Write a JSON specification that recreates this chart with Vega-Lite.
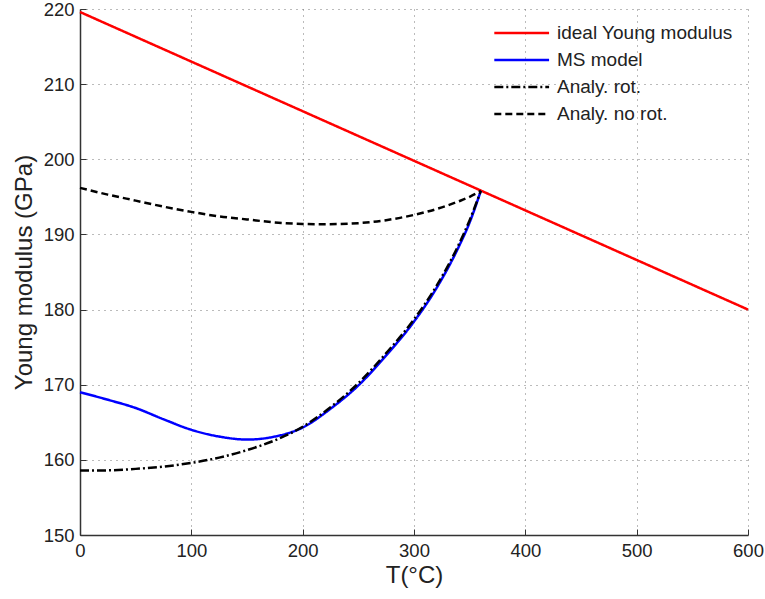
{
  "$schema": "https://vega.github.io/schema/vega-lite/v6.json",
  "autosize": "none",
  "width": 668,
  "height": 526,
  "padding": {"left": 80, "top": 9, "right": 17, "bottom": 64},
  "background": "white",
  "config": {
    "view": {"stroke": null},
    "font": "Liberation Sans",
    "axis": {
      "labelFont": "Liberation Sans",
      "titleFont": "Liberation Sans",
      "labelFontSize": 18.5,
      "titleFontSize": 24,
      "titleFontWeight": "normal",
      "labelColor": "#222",
      "titleColor": "#222",
      "labelFlush": false,
      "domainColor": "#333",
      "domainWidth": 1.5,
      "ticks": true,
      "tickSize": -6,
      "tickColor": "#333",
      "tickWidth": 1,
      "grid": true,
      "gridColor": "#777",
      "gridDash": [1, 5],
      "gridWidth": 1
    }
  },
  "data": {
    "values": [
      {"s": "ideal Young modulus", "T": 0, "E": 219.6},
      {"s": "ideal Young modulus", "T": 600, "E": 180.0},
      {"s": "MS model", "T": 0, "E": 169.0},
      {"s": "MS model", "T": 25, "E": 168.0},
      {"s": "MS model", "T": 50, "E": 166.9},
      {"s": "MS model", "T": 75, "E": 165.4},
      {"s": "MS model", "T": 100, "E": 164.0},
      {"s": "MS model", "T": 125, "E": 163.1},
      {"s": "MS model", "T": 150, "E": 162.7},
      {"s": "MS model", "T": 175, "E": 163.1},
      {"s": "MS model", "T": 200, "E": 164.3},
      {"s": "MS model", "T": 225, "E": 166.8},
      {"s": "MS model", "T": 250, "E": 169.9},
      {"s": "MS model", "T": 275, "E": 173.9},
      {"s": "MS model", "T": 300, "E": 178.4},
      {"s": "MS model", "T": 320, "E": 182.8},
      {"s": "MS model", "T": 340, "E": 188.3},
      {"s": "MS model", "T": 350, "E": 191.6},
      {"s": "MS model", "T": 360, "E": 195.8},
      {"s": "Analy. rot.", "T": 0, "E": 158.6},
      {"s": "Analy. rot.", "T": 25, "E": 158.6},
      {"s": "Analy. rot.", "T": 50, "E": 158.8},
      {"s": "Analy. rot.", "T": 75, "E": 159.1},
      {"s": "Analy. rot.", "T": 100, "E": 159.6},
      {"s": "Analy. rot.", "T": 125, "E": 160.3},
      {"s": "Analy. rot.", "T": 150, "E": 161.3},
      {"s": "Analy. rot.", "T": 175, "E": 162.6},
      {"s": "Analy. rot.", "T": 200, "E": 164.4},
      {"s": "Analy. rot.", "T": 225, "E": 167.0},
      {"s": "Analy. rot.", "T": 250, "E": 170.2},
      {"s": "Analy. rot.", "T": 275, "E": 174.2},
      {"s": "Analy. rot.", "T": 300, "E": 178.7},
      {"s": "Analy. rot.", "T": 320, "E": 183.1},
      {"s": "Analy. rot.", "T": 340, "E": 188.6},
      {"s": "Analy. rot.", "T": 350, "E": 191.9},
      {"s": "Analy. rot.", "T": 360, "E": 195.8},
      {"s": "Analy. no rot.", "T": 0, "E": 196.2},
      {"s": "Analy. no rot.", "T": 25, "E": 195.3},
      {"s": "Analy. no rot.", "T": 50, "E": 194.5},
      {"s": "Analy. no rot.", "T": 75, "E": 193.7},
      {"s": "Analy. no rot.", "T": 100, "E": 193.0},
      {"s": "Analy. no rot.", "T": 125, "E": 192.4},
      {"s": "Analy. no rot.", "T": 150, "E": 192.0},
      {"s": "Analy. no rot.", "T": 175, "E": 191.6},
      {"s": "Analy. no rot.", "T": 200, "E": 191.4},
      {"s": "Analy. no rot.", "T": 215, "E": 191.35},
      {"s": "Analy. no rot.", "T": 250, "E": 191.5},
      {"s": "Analy. no rot.", "T": 275, "E": 191.9},
      {"s": "Analy. no rot.", "T": 300, "E": 192.6},
      {"s": "Analy. no rot.", "T": 325, "E": 193.6},
      {"s": "Analy. no rot.", "T": 340, "E": 194.4},
      {"s": "Analy. no rot.", "T": 350, "E": 195.0},
      {"s": "Analy. no rot.", "T": 360, "E": 195.8}
    ]
  },
  "mark": {"type": "line", "strokeWidth": 2.5, "interpolate": "monotone"},
  "encoding": {
    "x": {
      "field": "T", "type": "quantitative",
      "scale": {"domain": [0, 600], "nice": false},
      "axis": {"values": [0, 100, 200, 300, 400, 500, 600], "title": "T(°C)", "labelPadding": 12, "titlePadding": 4}
    },
    "y": {
      "field": "E", "type": "quantitative",
      "scale": {"domain": [150, 220], "nice": false, "zero": false},
      "axis": {"values": [150, 160, 170, 180, 190, 200, 210, 220], "title": "Young modulus (GPa)", "labelPadding": 12, "titlePadding": 7}
    },
    "color": {
      "field": "s", "type": "nominal",
      "scale": {
        "domain": ["ideal Young modulus", "MS model", "Analy. rot.", "Analy. no rot."],
        "range": ["#ff0000", "#0000ff", "#000000", "#000000"]
      },
      "legend": {
        "title": null,
        "orient": "none",
        "legendX": 413,
        "legendY": 9,
        "symbolType": "M-1,0H3",
        "symbolSize": 750,
        "symbolStrokeWidth": 2.5,
        "symbolFillColor": "transparent",
        "labelFont": "Liberation Sans",
        "labelFontSize": 19,
        "labelColor": "#222",
        "labelLimit": 400,
        "rowPadding": 2,
        "labelOffset": 34
      }
    },
    "strokeDash": {
      "field": "s", "type": "nominal",
      "scale": {
        "domain": ["ideal Young modulus", "MS model", "Analy. rot.", "Analy. no rot."],
        "range": [[1, 0], [1, 0], [9, 3, 2, 3], [7, 4]]
      },
      "legend": {
        "title": null,
        "orient": "none",
        "legendX": 413,
        "legendY": 9,
        "symbolType": "M-1,0H3",
        "symbolSize": 750,
        "symbolStrokeWidth": 2.5,
        "symbolFillColor": "transparent",
        "labelFont": "Liberation Sans",
        "labelFontSize": 19,
        "labelColor": "#222",
        "labelLimit": 400,
        "rowPadding": 2,
        "labelOffset": 34
      }
    },
    "order": {"field": "s"}
  }
}
